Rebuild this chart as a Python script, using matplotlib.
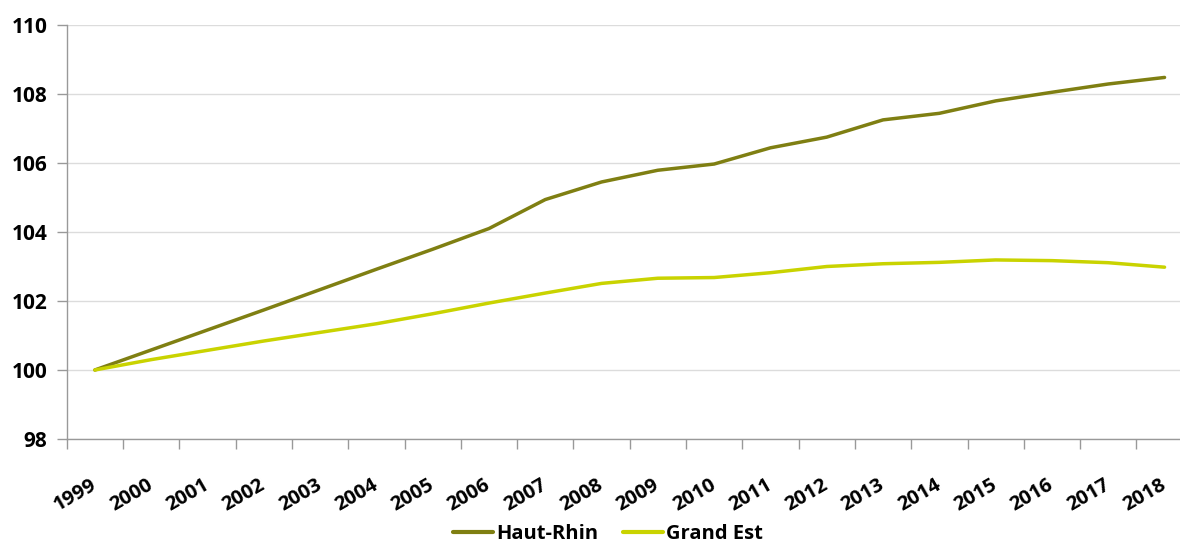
import numpy as np
import matplotlib
matplotlib.use("Agg")
import matplotlib.pyplot as plt
from matplotlib.ticker import FixedLocator

years = [str(y) for y in range(1999, 2019)]
haut_rhin = [100.0, 100.58, 101.16, 101.74, 102.33, 102.92, 103.5, 104.1, 104.94, 105.45,
             105.79, 105.97, 106.44, 106.75, 107.25, 107.44, 107.8, 108.05, 108.29, 108.48]
grand_est = [100.0, 100.3, 100.57, 100.84, 101.09, 101.34, 101.63, 101.94, 102.23, 102.51,
             102.66, 102.68, 102.82, 103.0, 103.08, 103.12, 103.19, 103.17, 103.11, 102.98]

plt.rcParams['font.family'] = ['Open Sans', 'DejaVu Sans']
plt.rcParams['font.weight'] = 'bold'

fig = plt.figure(figsize=(11.8, 5.43), dpi=100)
# axes spans a bit past the right edge, as in the original layout
ax = fig.add_axes([66.7 / 1180, 104 / 543, 1126 / 1180, 414 / 543])

x = np.arange(len(years))
ax.plot(x, haut_rhin, color='#7f7f12', lw=2.5, solid_capstyle='round', label='Haut-Rhin', zorder=3)
ax.plot(x, grand_est, color='#c9d300', lw=2.5, solid_capstyle='round', label='Grand Est', zorder=3)

ax.set_xlim(-0.5, len(years) - 0.5)
ax.set_ylim(98, 110)
ax.set_yticks(np.arange(98, 111, 2))
ax.yaxis.grid(True, color='#dcdcdc', lw=1)
ax.set_axisbelow(True)

# category boundaries get tick marks, centres get the labels
ax.xaxis.set_major_locator(FixedLocator(np.arange(-0.5, len(years), 1.0)))
ax.xaxis.set_minor_locator(FixedLocator(x))
ax.set_xticklabels([])
ax.set_xticklabels(years, minor=True)
ax.tick_params(axis='x', which='major', length=7, color='#999999', width=1)
ax.tick_params(axis='x', which='minor', length=0, pad=32, labelsize=14.5)
for lab in ax.get_xticklabels(minor=True):
    lab.set_rotation(30)
    lab.set_ha('right')
    lab.set_va('center')
    lab.set_rotation_mode('anchor')

ax.tick_params(axis='y', length=7, color='#999999', width=1, pad=7, labelsize=15)

for s in ['top', 'right']:
    ax.spines[s].set_visible(False)
for s in ['left', 'bottom']:
    ax.spines[s].set_color('#999999')
    ax.spines[s].set_linewidth(1)

leg = fig.legend(loc='center', bbox_to_anchor=(608 / 1180, 1 - 534 / 543), ncol=2,
                 frameon=False, fontsize=14.5, handlelength=2.0, handletextpad=0.15,
                 columnspacing=1.2, borderpad=0)
for h in leg.get_lines():
    h.set_linewidth(3)

fig.savefig('out.png', dpi=100)
